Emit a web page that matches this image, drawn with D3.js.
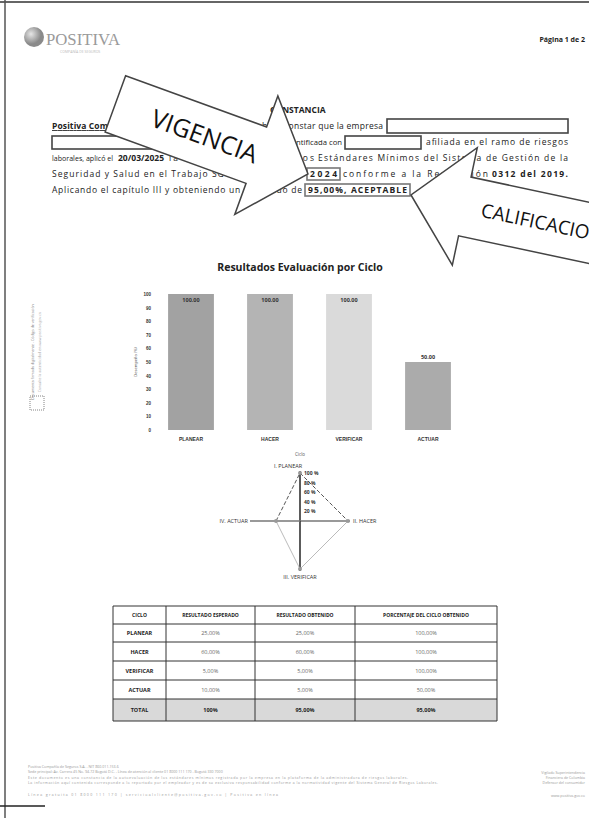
<!DOCTYPE html>
<html lang="es">
<head>
<meta charset="UTF-8">
<title>Constancia - Resultados Evaluación por Ciclo</title>
<style>
  body { margin: 0; background: #fff; }
  svg { display: block; font-family: 'Open Sans', 'Liberation Sans', sans-serif; }
</style>
<script src="https://cdnjs.cloudflare.com/ajax/libs/d3/7.8.5/d3.min.js"></script>
</head>
<body>
<div id="page"></div>
<script>
var ciclos = ["PLANEAR", "HACER", "VERIFICAR", "ACTUAR"];
var desempeno = [100, 100, 100, 50];
var yTicks = [0, 10, 20, 30, 40, 50, 60, 70, 80, 90, 100];
var barColors = ["#a2a2a2", "#b4b4b4", "#dadada", "#ababab"];

var radarLabels = ["I. PLANEAR", "II. HACER", "III. VERIFICAR", "IV. ACTUAR"];
var radarTicks = [20, 40, 60, 80, 100];

var tablaHeader = ["CICLO", "RESULTADO ESPERADO", "RESULTADO OBTENIDO", "PORCENTAJE DEL CICLO OBTENIDO"];
var esperado = ["25,00%", "60,00%", "5,00%", "10,00%"];
var obtenido = ["25,00%", "60,00%", "5,00%", "5,00%"];
var porcentaje = ["100,00%", "100,00%", "100,00%", "50,00%"];
var totales = ["TOTAL", "100%", "95,00%", "95,00%"];

var W = 589, H = 818;
var svg = d3.select("#page").append("svg").attr("width", W).attr("height", H);

// page edges from the scan
svg.append("line").attr("x1", 0).attr("x2", W).attr("y1", 2).attr("y2", 2).attr("stroke", "#333").attr("stroke-width", 1.5);
svg.append("line").attr("x1", 5).attr("x2", 5).attr("y1", 0).attr("y2", H).attr("stroke", "#555").attr("stroke-width", 1.5);
svg.append("line").attr("x1", 0).attr("x2", 45).attr("y1", 806).attr("y2", 806).attr("stroke", "#222").attr("stroke-width", 1.5);

// ---- header / logo ----
var grad = svg.append("defs").append("radialGradient").attr("id", "globe").attr("cx", "35%").attr("cy", "35%");
grad.append("stop").attr("offset", "0%").attr("stop-color", "#e6e6e6");
grad.append("stop").attr("offset", "100%").attr("stop-color", "#8a8a8a");
svg.append("circle").attr("cx", 34).attr("cy", 37).attr("r", 10).attr("fill", "url(#globe)");
svg.append("text").attr("x", 46).attr("y", 45).attr("font-family", "'Liberation Serif', 'DejaVu Serif', serif")
  .attr("font-size", 17).attr("fill", "#9a9a9a").attr("textLength", 74).attr("lengthAdjust", "spacingAndGlyphs")
  .text("POSITIVA");
svg.append("text").attr("x", 60).attr("y", 53).attr("font-size", 3.5).attr("fill", "#bbb").text("COMPAÑÍA DE SEGUROS");
svg.append("text").attr("x", 585).attr("y", 42).attr("text-anchor", "end").attr("font-size", 7)
  .attr("font-weight", "bold").attr("fill", "#222").text("Página 1 de 2");

// ---- constancia paragraph ----
var para = svg.append("g").attr("font-size", 8.5).attr("fill", "#222");
// a segment of a justified line: shrink the font if it is too wide, then spread it to fit
function seg(x, y, x2, txt, bold) {
  var t = para.append("text").attr("x", x).attr("y", y).text(txt);
  if (bold) t.attr("font-weight", "bold");
  var want = x2 - x, len = t.node().getComputedTextLength();
  if (len > want) t.attr("font-size", 8.5 * want / len);
  t.attr("textLength", want).attr("lengthAdjust", "spacing");
  return t;
}
para.append("text").attr("x", 270).attr("y", 113).attr("font-weight", "bold").text("CONSTANCIA");
seg(52, 129, 200, "Positiva Compañía de Seguros S.A.", true).attr("text-decoration", "underline");
seg(262, 129, 383, "hace constar que la empresa");
seg(285, 145, 342, "identificada con");
seg(426, 145, 568, "afiliada en el ramo de riesgos");
seg(52, 161, 113, "laborales, aplicó el");
seg(118, 161, 164, "20/03/2025", true);
seg(169, 161, 314, "la autoevaluación de los");
seg(318, 161, 568, "Estándares Mínimos del Sistema de Gestión de la");
seg(52, 177, 304, "Seguridad y Salud en el Trabajo SG-SST para el año");
seg(310, 177, 337, "2024", true);
seg(343, 177, 488, "conforme a la Resolución");
seg(492, 177, 568, "0312 del 2019.", true);
seg(52, 193, 302, "Aplicando el capítulo III y obteniendo un resultado de");
seg(308, 193, 407, "95,00%, ACEPTABLE", true);

var boxes = svg.append("g").attr("fill", "none").attr("stroke", "#444").attr("stroke-width", 1.6);
boxes.append("rect").attr("x", 387).attr("y", 119).attr("width", 181).attr("height", 14).attr("fill", "#fff");
boxes.append("rect").attr("x", 52).attr("y", 136).attr("width", 200).attr("height", 13).attr("fill", "#fff");
boxes.append("rect").attr("x", 345).attr("y", 136).attr("width", 76).attr("height", 13).attr("fill", "#fff");
boxes.append("rect").attr("x", 307).attr("y", 168).attr("width", 33).attr("height", 12).attr("stroke", "#777");
boxes.append("rect").attr("x", 305).attr("y", 184).attr("width", 105).attr("height", 12).attr("stroke", "#777");

// ---- annotation arrows drawn over the text ----
function arrow(tx, ty, angle, bodyLen, bodyHalf, headLen, headHalf, label, fs, labelAt, flip) {
  var g = svg.append("g").attr("transform", "translate(" + tx + "," + ty + ") rotate(" + angle + ")");
  var b = headLen + bodyLen;
  var pts = [[0, 0], [-headLen, -headHalf], [-headLen, -bodyHalf], [-b, -bodyHalf],
             [-b, bodyHalf], [-headLen, bodyHalf], [-headLen, headHalf]];
  g.append("path").attr("d", d3.line()(pts) + "Z").attr("fill", "#fff")
    .attr("stroke", "#444").attr("stroke-width", 1.5).attr("stroke-linejoin", "miter");
  g.append("text").attr("transform", "translate(" + (-labelAt) + ",0)" + (flip ? " rotate(180)" : ""))
    .attr("text-anchor", flip ? "start" : "middle").attr("dy", "0.35em").attr("font-size", fs)
    .attr("fill", "#111").text(label);
}
arrow(308, 174, 20, 150, 30, 55, 63, "VIGENCIA", 25, 110, false);
arrow(411, 195, 192, 260, 30, 55, 60, "CALIFICACION", 19, 72, true);

// ---- bar chart ----
svg.append("text").attr("x", 300).attr("y", 271).attr("text-anchor", "middle")
  .attr("font-size", 10.5).attr("font-weight", "bold").attr("fill", "#222").text("Resultados Evaluación por Ciclo");

var x = d3.scaleBand().domain(ciclos).range([151.5, 467.5]).paddingInner(0.42).paddingOuter(0.21);
var y = d3.scaleLinear().domain([0, 100]).range([430, 294]);
var bars = svg.append("g");
bars.selectAll("rect").data(ciclos).enter().append("rect")
  .attr("x", function (d) { return x(d); })
  .attr("y", function (d, i) { return y(desempeno[i]); })
  .attr("width", x.bandwidth())
  .attr("height", function (d, i) { return y(0) - y(desempeno[i]); })
  .attr("fill", function (d, i) { return barColors[i]; });
bars.selectAll("text.val").data(ciclos).enter().append("text").attr("class", "val")
  .attr("x", function (d) { return x(d) + x.bandwidth() / 2; })
  .attr("y", function (d, i) { return desempeno[i] > 90 ? y(desempeno[i]) + 8 : y(desempeno[i]) - 3; })
  .attr("text-anchor", "middle").attr("font-size", 5.5).attr("font-weight", "bold").attr("fill", "#333")
  .text(function (d, i) { return desempeno[i].toFixed(2); });

var yAxis = svg.append("g").attr("transform", "translate(151,0)")
  .call(d3.axisLeft(y).tickValues(yTicks).tickSize(0).tickPadding(0));
yAxis.select(".domain").remove();
yAxis.selectAll("text").attr("font-size", 4.5).attr("font-weight", "bold").attr("fill", "#333");
var xAxis = svg.append("g").attr("transform", "translate(0,436)")
  .call(d3.axisBottom(x).tickSize(0).tickPadding(1));
xAxis.select(".domain").remove();
xAxis.selectAll("text").attr("font-size", 5).attr("font-weight", "bold").attr("fill", "#333");
svg.append("text").attr("transform", "translate(137,362) rotate(-90)").attr("text-anchor", "middle")
  .attr("font-size", 4).attr("fill", "#444").text("Desempeño (%)");

// ---- radar chart ----
var cx = 300, cy = 521;
var r = d3.scaleLinear().domain([0, 100]).range([0, 48]);
function ang(i) { return (i * 90 - 90) * Math.PI / 180; }
var radar = svg.append("g");
radar.selectAll("line.axis").data(ciclos).enter().append("line").attr("class", "axis")
  .attr("x1", cx).attr("y1", cy)
  .attr("x2", function (d, i) { return cx + (r(100) + 2) * Math.cos(ang(i)); })
  .attr("y2", function (d, i) { return cy + (r(100) + 2) * Math.sin(ang(i)); })
  .attr("stroke", function (d, i) { return i % 2 ? "#777" : "#333"; })
  .attr("stroke-width", 1.6);
var pts = desempeno.map(function (v, i) {
  return [cx + r(v) * Math.cos(ang(i)), cy + r(v) * Math.sin(ang(i))];
});
var edgeStyle = ["4,2", null, null, "4,2"];
pts.forEach(function (p, i) {
  var q = pts[(i + 1) % pts.length];
  radar.append("line").attr("x1", p[0]).attr("y1", p[1]).attr("x2", q[0]).attr("y2", q[1])
    .attr("stroke", edgeStyle[i] ? "#555" : "#bbb").attr("stroke-width", 1)
    .attr("stroke-dasharray", edgeStyle[i]);
});
radar.selectAll("circle").data(pts).enter().append("circle")
  .attr("cx", function (d) { return d[0]; }).attr("cy", function (d) { return d[1]; })
  .attr("r", 2).attr("fill", "#999");
radar.selectAll("text.tick").data(radarTicks).enter().append("text").attr("class", "tick")
  .attr("x", cx + 4).attr("y", function (d) { return cy - r(d) + 2; })
  .attr("font-size", 5).attr("font-weight", "bold").attr("fill", "#333")
  .text(function (d) { return d + " %"; });
var labPos = [[cx - 12, cy - r(100) - 5, "middle"], [cx + r(100) + 5, cy + 2, "start"],
              [cx, cy + r(100) + 10, "middle"], [cx - r(100) - 4, cy + 2, "end"]];
radar.selectAll("text.lab").data(radarLabels).enter().append("text").attr("class", "lab")
  .attr("x", function (d, i) { return labPos[i][0]; })
  .attr("y", function (d, i) { return labPos[i][1]; })
  .attr("text-anchor", function (d, i) { return labPos[i][2]; })
  .attr("font-size", 5.5).attr("fill", "#333").text(function (d) { return d; });
radar.append("text").attr("x", cx).attr("y", 456).attr("text-anchor", "middle")
  .attr("font-size", 4.5).attr("fill", "#555").text("Ciclo");

// ---- summary table ----
var colX = [113, 166, 255, 355, 497];
var rowY = [606, 624, 642, 661, 680, 699, 721];
var rows = [tablaHeader].concat(ciclos.map(function (c, i) {
  return [c, esperado[i], obtenido[i], porcentaje[i]];
})).concat([totales]);
var tbl = svg.append("g");
tbl.append("rect").attr("x", colX[0]).attr("y", rowY[5]).attr("width", colX[4] - colX[0])
  .attr("height", rowY[6] - rowY[5]).attr("fill", "#d9d9d9");
rows.forEach(function (row, ri) {
  row.forEach(function (cell, ci) {
    var bold = ri === 0 || ri === rows.length - 1 || ci === 0;
    tbl.append("text").attr("x", (colX[ci] + colX[ci + 1]) / 2).attr("y", (rowY[ri] + rowY[ri + 1]) / 2 + 2)
      .attr("text-anchor", "middle").attr("font-size", ri === 0 ? 5 : 5.5)
      .attr("font-weight", bold ? "bold" : "normal").attr("fill", bold ? "#222" : "#666").text(cell);
  });
});
rowY.forEach(function (yy) {
  tbl.append("line").attr("x1", colX[0]).attr("x2", colX[4]).attr("y1", yy).attr("y2", yy)
    .attr("stroke", "#333").attr("stroke-width", 1);
});
colX.forEach(function (xx) {
  tbl.append("line").attr("x1", xx).attr("x2", xx).attr("y1", rowY[0]).attr("y2", rowY[6])
    .attr("stroke", "#333").attr("stroke-width", 1);
});

// ---- margin and footer fine print ----
svg.append("text").attr("transform", "translate(34,352) rotate(-90)").attr("text-anchor", "middle")
  .attr("font-size", 3.6).attr("fill", "#888").text("Documento firmado digitalmente - Código de verificación");
svg.append("text").attr("transform", "translate(41,352) rotate(-90)").attr("text-anchor", "middle")
  .attr("font-size", 3.6).attr("fill", "#aaa").text("Consulte la autenticidad en www.positiva.gov.co");
svg.append("rect").attr("x", 30).attr("y", 396).attr("width", 14).attr("height", 14).attr("fill", "none")
  .attr("stroke", "#666").attr("stroke-width", 0.8).attr("stroke-dasharray", "1,1");

var foot = svg.append("g").attr("font-size", 3.6).attr("fill", "#999");
foot.append("text").attr("x", 28).attr("y", 768).text("Positiva Compañía de Seguros S.A. - NIT 860.011.153-6");
foot.append("text").attr("x", 28).attr("y", 773).text("Sede principal: Av. Carrera 45 No. 94-72 Bogotá D.C. - Línea de atención al cliente 01 8000 111 170 - Bogotá 330 7000");
foot.append("text").attr("x", 28).attr("y", 779).attr("textLength", 380).text("Este documento es una constancia de la autoevaluación de los estándares mínimos registrada por la empresa en la plataforma de la administradora de riesgos laborales.");
foot.append("text").attr("x", 28).attr("y", 784).attr("textLength", 410).text("La información aquí contenida corresponde a lo reportado por el empleador y es de su exclusiva responsabilidad conforme a la normatividad vigente del Sistema General de Riesgos Laborales.");
foot.append("text").attr("x", 28).attr("y", 796).attr("textLength", 250).text("Línea gratuita 01 8000 111 170   |   servicioalcliente@positiva.gov.co   |   Positiva en línea");
foot.append("text").attr("x", 585).attr("y", 774).attr("text-anchor", "end").text("Vigilado Superintendencia");
foot.append("text").attr("x", 585).attr("y", 779).attr("text-anchor", "end").text("Financiera de Colombia");
foot.append("text").attr("x", 585).attr("y", 784).attr("text-anchor", "end").text("Defensor del consumidor");
foot.append("text").attr("x", 585).attr("y", 797).attr("text-anchor", "end").text("www.positiva.gov.co");
</script>
</body>
</html>
